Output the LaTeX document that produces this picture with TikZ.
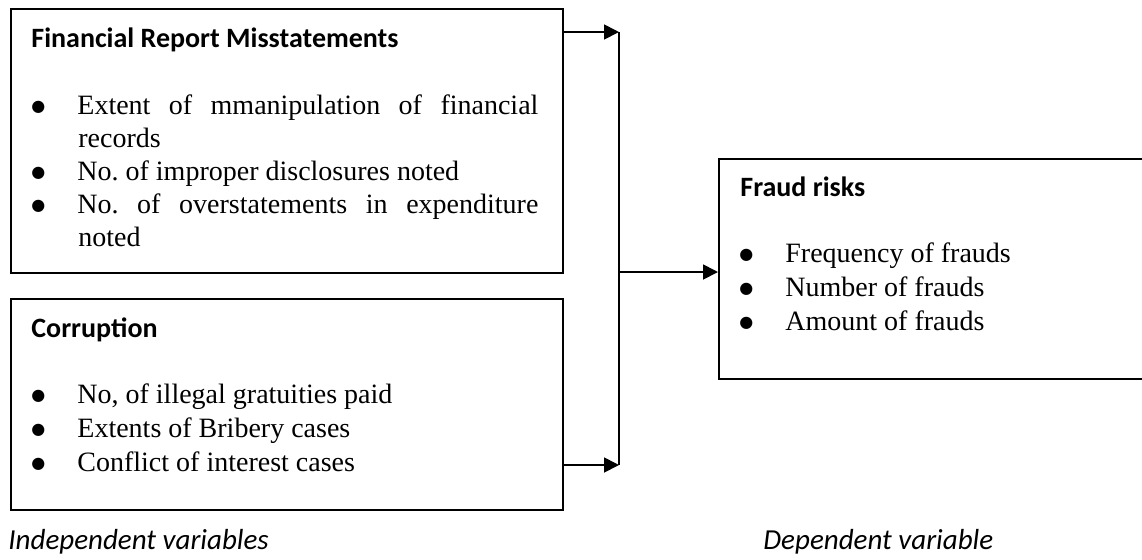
\documentclass[tikz,border=0pt]{standalone}
\usepackage{fontspec}
\setmainfont{Liberation Serif}
\newfontfamily\calibri{Carlito}
\newfontfamily\symb{DejaVu Sans}
\usetikzlibrary{arrows.meta}
\newcommand{\bul}{\makebox[23pt][l]{\raisebox{1.2pt}{\symb\fontsize{8}{8}\selectfont ●}}}

\begin{document}
\begin{tikzpicture}[x=0.5pt,y=-0.5pt,
  box/.style={draw,line width=0.9pt,inner sep=0pt,anchor=north west},
  head/.style={anchor=base west,inner sep=0pt,font=\calibri\bfseries\fontsize{14}{17}\selectfont},
  item/.style={anchor=base west,inner sep=0pt,font=\fontsize{14}{17}\selectfont},
  var/.style={anchor=base west,inner sep=0pt,font=\calibri\itshape\fontsize{14.5}{17}\selectfont},
  link/.style={line width=0.9pt},
  arr/.style={link,-{Triangle[length=7.5pt,width=7.5pt]}}]
\def\wj{230.5pt}
\useasboundingbox (0,0) rectangle (1142,559);

% boxes
\node[box,minimum width=276pt,minimum height=132pt] (FRM) at (10,8) {};
\node[box,minimum width=276pt,minimum height=105.5pt] (COR) at (10,298) {};
\node[box,minimum width=216pt,minimum height=110pt] (FR) at (718,158) {};

% financial report misstatements
\node[head] (FRMh) at (31,47) {Financial Report Misstatements};
\node[item] (FRM1) at (31,114) {\bul\makebox[\wj][s]{Extent of mmanipulation of financial}};
\node[item] (FRM1b) at (78,147) {records};
\node[item] (FRM2) at (31,180) {\bul No.\ of improper disclosures noted};
\node[item] (FRM3) at (31,213) {\bul\makebox[\wj][s]{No.\ of overstatements in expenditure}};
\node[item] (FRM3b) at (78,246) {noted};

% corruption
\node[head] (CORh) at (31,337) {Corruption};
\node[item] (COR1) at (31,403) {\bul No, of illegal gratuities paid};
\node[item] (COR2) at (31,437) {\bul Extents of Bribery cases};
\node[item] (COR3) at (31,471) {\bul Conflict of interest cases};

% fraud risks
\node[head] (FRh) at (740,196) {Fraud risks};
\node[item] (FR1) at (739,262) {\bul Frequency of frauds};
\node[item] (FR2) at (739,296) {\bul Number of frauds};
\node[item] (FR3) at (739,330) {\bul Amount of frauds};

% connectors
\coordinate (JT) at (619,32);
\coordinate (JM) at (619,272);
\coordinate (JB) at (619,465);
\draw[arr] (FRM.east |- JT) -- (JT);
\draw[arr] (COR.east |- JB) -- (JB);
\draw[link] (JT) -- (JB);
\draw[arr] (JM) -- (JM -| FR.west);

% variable labels
\node[var] (IV) at (8,549) {Independent variables};
\node[var] (DV) at (763,549) {Dependent variable};
\end{tikzpicture}
\end{document}
